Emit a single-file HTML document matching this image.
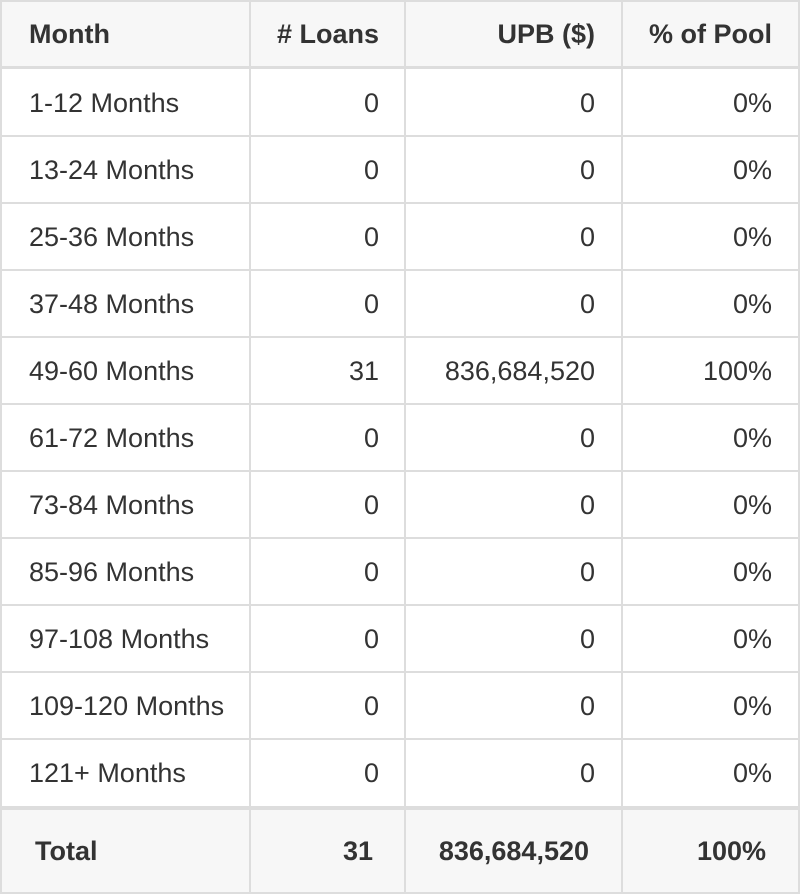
<!DOCTYPE html>
<html><head><style>
body{margin:0;width:800px;height:894px;background:#fff;font-family:"Liberation Sans",Arial,sans-serif;color:#333;position:relative;overflow:hidden}
.h{position:absolute;left:0;width:800px;background:#ddd}
.v{position:absolute;width:2px;background:#ddd;top:0;height:894px}
.bg{position:absolute;left:0;width:800px;background:#f7f7f7}
.t{position:absolute;font-size:27px;line-height:30px;white-space:nowrap}
.b{font-weight:bold}
.r{text-align:right}
</style></head><body>
<div class="bg" style="top:0;height:68px"></div>
<div class="bg" style="top:808px;height:86px"></div>
<div class="h" style="top:0;height:2px"></div>
<div class="h" style="top:66px;height:3px"></div>
<div id="lines"></div>
<div class="h" style="top:806px;height:4px"></div>
<div class="h" style="top:892px;height:2px"></div>
<div class="v" style="left:0"></div>
<div class="v" style="left:249px"></div>
<div class="v" style="left:404px"></div>
<div class="v" style="left:621px"></div>
<div class="v" style="left:798px"></div>
<div id="txt"></div>
<script>
var L=document.getElementById('lines'),T=document.getElementById('txt'),h='';
for(var i=1;i<11;i++){h+='<div class="h" style="top:'+(68+67*i)+'px;height:2px"></div>';}
L.innerHTML=h;
function row(y,a,b,c,d,bold,pad){
 var cl='t'+(bold?' b':'');
 return '<div class="'+cl+'" style="left:'+(bold?35:29)+'px;top:'+y+'px">'+a+'</div>'+
 '<div class="'+cl+' r" style="right:'+(800-404+pad)+'px;top:'+y+'px">'+b+'</div>'+
 '<div class="'+cl+' r" style="right:'+(800-622+pad+2)+'px;top:'+y+'px">'+c+'</div>'+
 '<div class="'+cl+' r" style="right:'+(800-798+pad+1)+'px;top:'+y+'px">'+d+'</div>';
}
var s=row(19,'Month','# Loans','UPB ($)','% of Pool',true,25);
s=s.replace('left:35px','left:29px');
var names=['1-12','13-24','25-36','37-48','49-60','61-72','73-84','85-96','97-108','109-120','121+'];
for(var i=0;i<11;i++){
 var y=88+67*i;
 if(i==4)s+=row(y,names[i]+' Months','31','836,684,520','100%',false,25);
 else s+=row(y,names[i]+' Months','0','0','0%',false,25);
}
s+=row(836,'Total','31','836,684,520','100%',true,31);
T.innerHTML=s;
</script>
</body></html>
